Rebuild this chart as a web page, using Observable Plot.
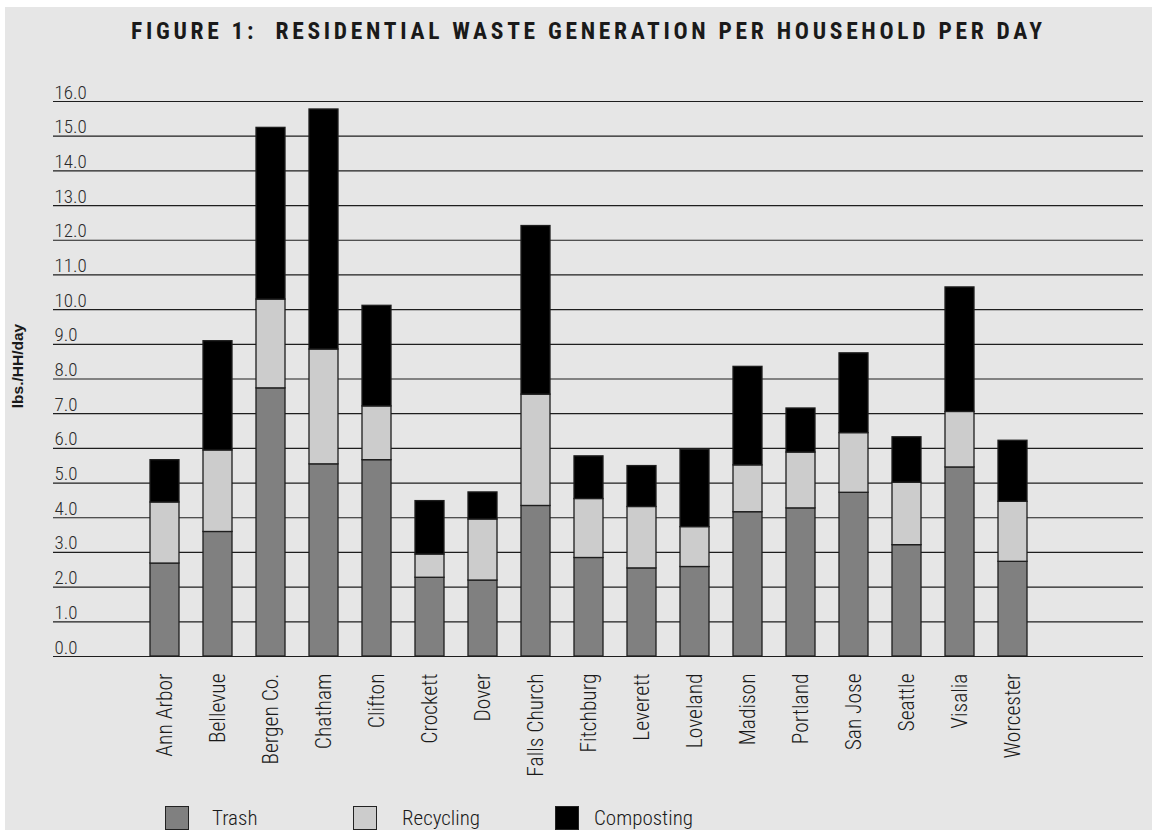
<!DOCTYPE html>
<html>
<head>
<meta charset="utf-8">
<script src="https://cdn.jsdelivr.net/npm/d3@7"></script>
<script src="https://cdn.jsdelivr.net/npm/@observablehq/plot@0.6"></script>
<style>
  html, body { margin: 0; padding: 0; background: #ffffff; }
  body { width: 1152px; height: 830px; position: relative; overflow: hidden; }
  #bg { position: absolute; left: 5px; top: 7px; width: 1147px; height: 823px; background: #e6e6e6; }
  .nf { font-family: "Roboto Condensed", "Liberation Sans Narrow", "DejaVu Sans Condensed", "Liberation Sans", sans-serif; font-stretch: condensed; }
  #title { position: absolute; left: 131px; top: 20px; font-size: 23.5px; font-weight: bold; line-height: 1; white-space: pre; color: #1a1a1a; }
  #chart { position: absolute; left: 0; top: 0; }
  .sw { position: absolute; width: 24px; height: 24px; box-sizing: border-box; border: 1.5px solid #222; }
  .lt { position: absolute; font-size: 21px; font-weight: 300; line-height: 1; color: #1a1a1a; white-space: pre; }
</style>
</head>
<body>
<div id="bg"></div>
<div id="title" class="nf">FIGURE 1:  RESIDENTIAL WASTE GENERATION PER HOUSEHOLD PER DAY</div>
<div id="chart"></div>
<div id="legend"></div>
<script>
const cities = ["Ann Arbor","Bellevue","Bergen Co.","Chatham","Clifton","Crockett","Dover","Falls Church","Fitchburg","Leverett","Loveland","Madison","Portland","San Jose","Seattle","Visalia","Worcester"];
const types = ["Trash","Recycling","Composting"];
const trash      = [2.68, 3.59, 7.73, 5.54, 5.66, 2.27, 2.19, 4.34, 2.84, 2.54, 2.58, 4.16, 4.27, 4.72, 3.21, 5.45, 2.73];
const recycling  = [1.76, 2.35, 2.56, 3.31, 1.55, 0.67, 1.76, 3.21, 1.70, 1.77, 1.15, 1.35, 1.61, 1.72, 1.80, 1.60, 1.73];
const composting = [1.22, 3.15, 4.95, 6.92, 2.90, 1.54, 0.78, 4.86, 1.23, 1.18, 2.23, 2.84, 1.27, 2.30, 1.31, 3.59, 1.76];
const yTicks = [0,1,2,3,4,5,6,7,8,9,10,11,12,13,14,15,16];
const colors = ["#808080", "#cccccc", "#000000"];
const yLabel = "lbs./HH/day";

const series = [trash, recycling, composting];
const data = [];
cities.forEach((c, i) => types.forEach((t, j) => data.push({city: c, type: t, value: series[j][i]})));

const font = '"Roboto Condensed", "Liberation Sans Narrow", "DejaVu Sans Condensed", "Liberation Sans", sans-serif';

const chart = Plot.plot({
  width: 1152,
  height: 800,
  marginTop: 101,
  marginBottom: 144,
  marginLeft: 53,
  marginRight: 9,
  style: {background: "transparent", fontFamily: font, fontStretch: "condensed", overflow: "visible"},
  x: {type: "band", domain: cities, range: [118.5, 1057.7], padding: 0.46, axis: null},
  y: {domain: [0, 16], axis: null},
  color: {domain: types, range: colors},
  marks: [
    Plot.ruleY(yTicks, {stroke: "#1e1e1e", strokeWidth: 1.2}),
    Plot.text(yTicks, {y: d => d, text: d => d.toFixed(1), frameAnchor: "left", textAnchor: "start", lineAnchor: "bottom", dx: 1, dy: -3, fontSize: 19, fontWeight: 300, fill: "#2a2a2a"}),
    Plot.barY(data, {x: "city", y: "value", fill: "type", stroke: "#1e1e1e", strokeWidth: 1.3}),
    Plot.text(cities, {x: d => d, text: d => d, frameAnchor: "bottom", rotate: -90, textAnchor: "end", lineAnchor: "middle", dy: 17, fontSize: 21.5, fontWeight: 300, fill: "#1a1a1a"}),
    Plot.text([yLabel], {text: d => d, frameAnchor: "left", rotate: -90, textAnchor: "middle", lineAnchor: "middle", dx: -35, dy: -13, fontSize: 15.5, fontWeight: "bold", fill: "#1a1a1a", fontFamily: '"Liberation Sans", Arial, sans-serif'})
  ]
});
document.getElementById("chart").appendChild(chart);

// fit title spacing to the reference span
const title = document.getElementById("title");
const targetW = 911;
const n = title.textContent.length;
const w0 = title.getBoundingClientRect().width;
title.style.letterSpacing = ((targetW - w0) / (n - 1)) + "px";

// legend
const legend = document.getElementById("legend");
const swX = [165, 353, 555];
const txX = [212, 402, 594];
types.forEach((t, i) => {
  const s = document.createElement("div");
  s.className = "sw";
  s.style.left = swX[i] + "px";
  s.style.top = "806px";
  s.style.background = colors[i];
  legend.appendChild(s);
  const l = document.createElement("div");
  l.className = "lt nf";
  l.style.left = txX[i] + "px";
  l.style.top = "808px";
  l.textContent = t;
  legend.appendChild(l);
});
</script>
</body>
</html>
